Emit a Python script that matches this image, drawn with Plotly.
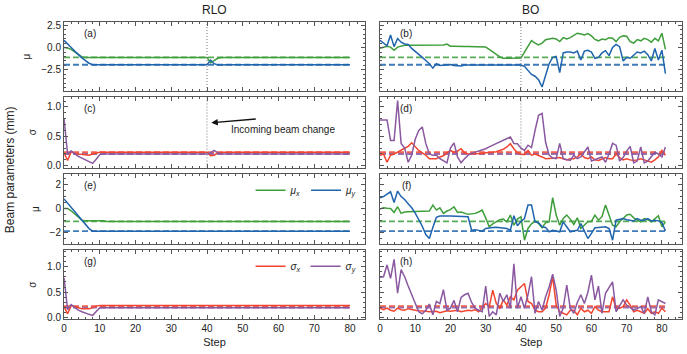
import plotly.graph_objects as go
from plotly.subplots import make_subplots

# ---------------------------------------------------------------- data
RLO_STEPS = list(range(81))
BO_STEPS = list(range(82))
CHANGE_STEP = 40

TARGET_MU_X = -1.1
TARGET_MU_Y = -1.92
TARGET_SIGMA_X = 0.23
TARGET_SIGMA_Y = 0.2

# (a) RLO, with incoming beam change
RLO_A_MU_X = [
    0.0, -0.05, -0.2, -0.5, -0.8, -1.05, -1.1, -1.1, -1.1, -1.1,
    -1.1, -1.1, -1.1, -1.1, -1.1, -1.1, -1.1, -1.1, -1.1, -1.1,
    -1.1, -1.1, -1.1, -1.1, -1.1, -1.1, -1.1, -1.1, -1.1, -1.1,
    -1.1, -1.1, -1.1, -1.1, -1.1, -1.1, -1.1, -1.1, -1.1, -1.1,
    -1.1, -1.7, -1.45, -1.2, -1.12, -1.1, -1.1, -1.1, -1.1, -1.1,
    -1.1, -1.1, -1.1, -1.1, -1.1, -1.1, -1.1, -1.1, -1.1, -1.1,
    -1.1, -1.1, -1.1, -1.1, -1.1, -1.1, -1.1, -1.1, -1.1, -1.1,
    -1.1, -1.1, -1.1, -1.1, -1.1, -1.1, -1.1, -1.1, -1.1, -1.1,
    -1.1,
]
RLO_A_MU_Y = [
    0.8, 0.45, 0.0, -0.4, -0.8, -1.15, -1.45, -1.75, -1.92, -1.92,
    -1.92, -1.92, -1.92, -1.92, -1.92, -1.92, -1.92, -1.92, -1.92, -1.92,
    -1.92, -1.92, -1.92, -1.92, -1.92, -1.92, -1.92, -1.92, -1.92, -1.92,
    -1.92, -1.92, -1.92, -1.92, -1.92, -1.92, -1.92, -1.92, -1.92, -1.92,
    -1.92, -1.4, -1.8, -1.95, -1.92, -1.92, -1.92, -1.92, -1.92, -1.92,
    -1.92, -1.92, -1.92, -1.92, -1.92, -1.92, -1.92, -1.92, -1.92, -1.92,
    -1.92, -1.92, -1.92, -1.92, -1.92, -1.92, -1.92, -1.92, -1.92, -1.92,
    -1.92, -1.92, -1.92, -1.92, -1.92, -1.92, -1.92, -1.92, -1.92, -1.92,
    -1.92,
]
# (c)
RLO_C_SIGMA_X = [
    0.22, 0.09, 0.24, 0.21, 0.2, 0.19, 0.18, 0.18, 0.2, 0.22,
    0.23, 0.23, 0.23, 0.23, 0.23, 0.23, 0.23, 0.23, 0.23, 0.23,
    0.23, 0.23, 0.23, 0.23, 0.23, 0.23, 0.23, 0.23, 0.23, 0.23,
    0.23, 0.23, 0.23, 0.23, 0.23, 0.23, 0.23, 0.23, 0.23, 0.23,
    0.23, 0.17, 0.18, 0.22, 0.23, 0.23, 0.23, 0.23, 0.23, 0.23,
    0.23, 0.23, 0.23, 0.23, 0.23, 0.23, 0.23, 0.23, 0.23, 0.23,
    0.23, 0.23, 0.23, 0.23, 0.23, 0.23, 0.23, 0.23, 0.23, 0.23,
    0.23, 0.23, 0.23, 0.23, 0.23, 0.23, 0.23, 0.23, 0.23, 0.23,
    0.23,
]
RLO_C_SIGMA_Y = [
    0.8, 0.2, 0.25, 0.2, 0.16, 0.13, 0.1, 0.07, 0.04, 0.11,
    0.19, 0.2, 0.2, 0.2, 0.2, 0.2, 0.2, 0.2, 0.2, 0.2,
    0.2, 0.2, 0.2, 0.2, 0.2, 0.2, 0.2, 0.2, 0.2, 0.2,
    0.2, 0.2, 0.2, 0.2, 0.2, 0.2, 0.2, 0.2, 0.2, 0.2,
    0.2, 0.22, 0.26, 0.22, 0.2, 0.2, 0.2, 0.2, 0.2, 0.2,
    0.2, 0.2, 0.2, 0.2, 0.2, 0.2, 0.2, 0.2, 0.2, 0.2,
    0.2, 0.2, 0.2, 0.2, 0.2, 0.2, 0.2, 0.2, 0.2, 0.2,
    0.2, 0.2, 0.2, 0.2, 0.2, 0.2, 0.2, 0.2, 0.2, 0.2,
    0.2,
]
# (e) RLO, fixed incoming beam
RLO_E_MU_X = [
    0.0, 0.0, -0.2, -0.45, -0.75, -1.0, -1.05, -1.05, -1.05, -1.02,
    -1.0, -1.05, -1.1, -1.1, -1.1, -1.1, -1.1, -1.1, -1.1, -1.1,
    -1.1, -1.1, -1.1, -1.1, -1.1, -1.1, -1.1, -1.1, -1.1, -1.1,
    -1.1, -1.1, -1.1, -1.1, -1.1, -1.1, -1.1, -1.1, -1.1, -1.1,
    -1.1, -1.1, -1.1, -1.1, -1.1, -1.1, -1.1, -1.1, -1.1, -1.1,
    -1.1, -1.1, -1.1, -1.1, -1.1, -1.1, -1.1, -1.1, -1.1, -1.1,
    -1.1, -1.1, -1.1, -1.1, -1.1, -1.1, -1.1, -1.1, -1.1, -1.1,
    -1.1, -1.1, -1.1, -1.1, -1.1, -1.1, -1.1, -1.1, -1.1, -1.1,
    -1.1,
]
RLO_E_MU_Y = [
    0.8, 0.45, 0.05, -0.3, -0.7, -1.05, -1.4, -1.7, -1.92, -1.92,
    -1.92, -1.92, -1.92, -1.92, -1.92, -1.92, -1.92, -1.92, -1.92, -1.92,
    -1.92, -1.92, -1.92, -1.92, -1.92, -1.92, -1.92, -1.92, -1.92, -1.92,
    -1.92, -1.92, -1.92, -1.92, -1.92, -1.92, -1.92, -1.92, -1.92, -1.92,
    -1.92, -1.92, -1.92, -1.92, -1.92, -1.92, -1.92, -1.92, -1.92, -1.92,
    -1.92, -1.92, -1.92, -1.92, -1.92, -1.92, -1.92, -1.92, -1.92, -1.92,
    -1.92, -1.92, -1.92, -1.92, -1.92, -1.92, -1.92, -1.92, -1.92, -1.92,
    -1.92, -1.92, -1.92, -1.92, -1.92, -1.92, -1.92, -1.92, -1.92, -1.92,
    -1.92,
]
# (g)
RLO_G_SIGMA_X = [
    0.22, 0.08, 0.24, 0.22, 0.2, 0.18, 0.18, 0.18, 0.2, 0.23,
    0.24, 0.24, 0.24, 0.24, 0.24, 0.24, 0.24, 0.24, 0.24, 0.24,
    0.24, 0.24, 0.24, 0.24, 0.24, 0.24, 0.24, 0.24, 0.24, 0.24,
    0.24, 0.24, 0.24, 0.24, 0.24, 0.24, 0.24, 0.24, 0.24, 0.24,
    0.24, 0.24, 0.24, 0.24, 0.24, 0.24, 0.24, 0.24, 0.24, 0.24,
    0.24, 0.24, 0.24, 0.24, 0.24, 0.24, 0.24, 0.24, 0.24, 0.24,
    0.24, 0.24, 0.24, 0.24, 0.24, 0.24, 0.24, 0.24, 0.24, 0.24,
    0.24, 0.24, 0.24, 0.24, 0.24, 0.24, 0.24, 0.24, 0.24, 0.24,
    0.24,
]
RLO_G_SIGMA_Y = [
    0.78, 0.16, 0.26, 0.2, 0.15, 0.12, 0.09, 0.07, 0.05, 0.13,
    0.2, 0.2, 0.2, 0.2, 0.2, 0.2, 0.2, 0.2, 0.2, 0.2,
    0.2, 0.2, 0.2, 0.2, 0.2, 0.2, 0.2, 0.2, 0.2, 0.2,
    0.2, 0.2, 0.2, 0.2, 0.2, 0.2, 0.2, 0.2, 0.2, 0.2,
    0.2, 0.2, 0.2, 0.2, 0.2, 0.2, 0.2, 0.2, 0.2, 0.2,
    0.2, 0.2, 0.2, 0.2, 0.2, 0.2, 0.2, 0.2, 0.2, 0.2,
    0.2, 0.2, 0.2, 0.2, 0.2, 0.2, 0.2, 0.2, 0.2, 0.2,
    0.2, 0.2, 0.2, 0.2, 0.2, 0.2, 0.2, 0.2, 0.2, 0.2,
    0.2,
]

# (b) BO, with incoming beam change
BO_B_MU_X = [
    -0.07, 0.0, 0.15, 0.05, -0.3, 0.05, 0.15, 0.25, 0.25, 0.25,
    0.25, 0.25, 0.25, 0.25, 0.25, 0.25, 0.25, 0.25, 0.28, 0.38,
    0.15, 0.15, 0.12, 0.15, 0.12, 0.12, 0.12, 0.12, 0.1, 0.1,
    0.05, -0.2, -0.5, -0.8, -1.05, -1.2, -1.18, -1.18, -1.18, -1.18,
    -1.18, -0.5, 0.2, 0.77, 0.5, 0.3, 0.5, 0.88, 0.95, 1.03,
    0.95, 0.66, 1.1, 0.95, 1.1, 1.4, 1.6, 1.5, 1.4, 1.55,
    1.3, 0.9, 0.75, 0.95, 0.88, 1.1, 1.03, 0.66, 1.14, 1.3,
    1.25, 0.66, 0.5, 0.88, 0.75, 1.03, 0.88, 0.6, 1.03, 0.75,
    1.6, -0.2,
]
BO_B_MU_Y = [
    0.8, 0.5, 0.2, 1.4, 0.1, 1.0, 0.6, 0.4, 0.35, -0.1,
    -0.4, -0.75, -1.1, -1.45, -1.8, -2.3, -1.8, -2.0, -1.95, -1.95,
    -1.9, -2.0, -2.0, -2.05, -1.95, -1.95, -1.9, -1.95, -1.95, -1.95,
    -1.95, -1.95, -1.95, -1.95, -1.95, -1.95, -1.95, -1.95, -1.95, -1.95,
    -1.95, -2.1, -2.5, -3.0, -3.2, -3.6, -4.4, -3.2, -1.8, -1.1,
    -1.0, -2.8, -0.6, -0.5, -0.5, -0.6, -0.4, -1.4, -0.4, -0.3,
    -0.5, -1.2, -1.1, -0.6, -0.35, -0.9, 0.0, 0.35, 0.1, -1.5,
    -1.1, -1.2, -0.8, -0.5, -0.6, -0.4, -0.8, -1.5, -0.1, -1.4,
    -0.3, -2.9,
]
# (d)
BO_D_SIGMA_X = [
    0.18, 0.2, 0.06, 0.18, 0.2, 0.23, 0.26, 0.29, 0.33, 0.39,
    0.33, 0.26, 0.22, 0.18, 0.12, 0.12, 0.12, 0.15, 0.17, 0.22,
    0.26, 0.23, 0.25, 0.29, 0.22, 0.2, 0.2, 0.2, 0.21, 0.21,
    0.22, 0.22, 0.23, 0.24, 0.26, 0.28, 0.32, 0.375, 0.29, 0.22,
    0.2, 0.19, 0.26, 0.18, 0.2, 0.18, 0.15, 0.12, 0.12, 0.12,
    0.13, 0.14, 0.12, 0.1, 0.12, 0.12, 0.15, 0.2, 0.14, 0.12,
    0.15, 0.1, 0.09, 0.12, 0.14, 0.12, 0.12, 0.2, 0.14, 0.1,
    0.12, 0.1, 0.09, 0.1, 0.12, 0.1, 0.08, 0.06, 0.1, 0.15,
    0.26, 0.18,
]
BO_D_SIGMA_Y = [
    0.78, 0.78, 0.78, 0.43, 0.43, 1.11, 0.38, 0.3, 0.06, 0.18,
    0.45, 0.6, 0.66, 0.38, 0.2, 0.18, 0.18, 0.12, 0.08, 0.05,
    0.3, 0.39, 0.15, 0.05, 0.12, 0.18, 0.21, 0.23, 0.24, 0.26,
    0.29, 0.32, 0.35, 0.38, 0.4, 0.43, 0.46, 0.49, 0.38, 0.375,
    0.3, 0.26, 0.35, 0.31, 0.6, 0.86, 0.89, 0.4, 0.18, 0.13,
    0.12, 0.38, 0.12, 0.1, 0.09, 0.18, 0.12, 0.15, 0.23, 0.32,
    0.08, 0.1, 0.12, 0.15, 0.06, 0.2, 0.38, 0.35, 0.08, 0.14,
    0.25, 0.33, 0.05, 0.08, 0.32, 0.05, 0.08, 0.15, 0.23, 0.2,
    0.15, 0.32,
]
# (f) BO, fixed incoming beam
BO_F_MU_X = [
    -0.05, 0.05, 0.02, 0.0, -0.34, 0.14, -0.42, -0.3, -0.28, -0.27,
    -0.26, -0.25, -0.24, -0.23, -0.22, 0.28, -0.14, 0.05, -0.42, -0.22,
    -0.1, 0.14, -0.34, -0.3, -0.4, -0.5, -0.46, -0.42, -0.3, -0.14,
    -0.8, -1.55, -1.3, -1.13, -0.95, -0.9, -1.13, -0.56, -1.41, -0.9,
    -0.7, -2.68, -1.69, -1.3, -1.07, -1.27, -1.63, -1.2, -1.13, 0.9,
    -0.56, -1.41, -0.85, -0.56, -0.9, -1.35, -0.79, -1.69, -1.4, -1.13,
    -1.1, -0.56, -0.99, -0.7, 0.28, -0.6, -1.41, -1.55, -1.13, -0.85,
    -0.56, -0.5, -0.8, -0.99, -1.13, -0.85, -0.95, -1.13, -0.9, -0.62,
    -1.55, -1.13,
]
BO_F_MU_Y = [
    0.9, 1.0, 1.2, 1.4, 0.5, 1.46, 1.0, 0.75, 0.4, 0.05,
    -0.4, -0.9, -1.5, -2.2, -2.54, -1.6, -0.75, -0.65, -0.62, -0.65,
    -0.65, -0.65, -0.7, -0.68, -0.7, -0.7, -1.83, -1.8, -1.85, -1.92,
    -1.69, -1.62, -1.6, -1.58, -1.6, -1.62, -1.7, -1.83, -0.62, -1.46,
    -1.1, -0.85, 0.28, 0.28, -1.13, -1.2, -1.55, -1.6, -1.97, -1.85,
    -1.9, -1.97, -1.13, -1.6, -1.97, -1.9, -1.85, -1.27, -1.9, -2.54,
    -2.1, -1.63, -1.6, -1.6, -1.55, -1.7, -2.68, -0.99, -0.95, -0.85,
    -0.95, -0.99, -1.05, -0.85, -0.99, -1.0, -0.85, -1.05, -1.0, -1.05,
    -1.2, -1.9,
]
# (h)
BO_H_SIGMA_X = [
    0.19, 0.16, 0.19, 0.15, 0.13, 0.19, 0.16, 0.15, 0.18, 0.16,
    0.15, 0.14, 0.14, 0.13, 0.12, 0.12, 0.13, 0.1, 0.12, 0.14,
    0.13, 0.14, 0.15, 0.12, 0.14, 0.15, 0.14, 0.16, 0.12, 0.2,
    0.28, 0.22, 0.54, 0.28, 0.19, 0.35, 0.25, 0.41, 0.35, 0.54,
    0.6, 0.67, 0.32, 0.28, 0.15, 0.12, 0.12, 0.19, 0.45, 0.8,
    0.25, 0.12, 0.09, 0.06, 0.15, 0.15, 0.06, 0.19, 0.12, 0.15,
    0.09, 0.22, 0.15, 0.12, 0.12, 0.12, 0.41, 0.19, 0.19, 0.22,
    0.35, 0.25, 0.12, 0.15, 0.12, 0.09, 0.18, 0.09, 0.12, 0.09,
    0.19, 0.12,
]
BO_H_SIGMA_Y = [
    0.79, 0.8, 1.03, 0.77, 1.14, 0.48, 0.94, 0.8, 0.62, 0.45,
    0.28, 0.12, 0.08, 0.15, 0.27, 0.06, 0.32, 0.28, 0.55, 0.15,
    0.19, 0.34, 0.12, 0.4, 0.45, 0.48, 0.3, 0.19, 0.15, 0.12,
    0.62, 0.03, 0.12, 0.06, 0.48, 0.32, 0.45, 0.19, 1.05, 0.19,
    0.41, 0.19, 0.45, 0.8, 0.09, 0.32, 0.15, 0.41, 0.6, 0.85,
    0.54, 0.03, 0.19, 0.64, 0.19, 0.09, 0.3, 0.45, 0.28, 0.5,
    0.83, 0.35, 0.62, 0.09, 0.48, 0.6, 0.7, 0.12, 0.25, 0.35,
    0.25, 0.2, 0.15, 0.18, 0.22, 0.09, 0.41, 0.12, 0.06, 0.35,
    0.32, 0.28,
]

COLUMN_TITLES = ["RLO", "BO"]
PANEL_LABELS = ["(a)", "(b)", "(c)", "(d)", "(e)", "(f)", "(g)", "(h)"]
ANNOTATION_TEXT = "Incoming beam change"

# ---------------------------------------------------------------- style
GREEN = "#3d9e3a"
BLUE = "#1f64ad"
RED = "#f2452f"
PURPLE = "#8a58a0"
FONT = "Liberation Sans, Arial, sans-serif"
FRAME = "#555555"

X_DOMAINS = [[0.0932, 0.5313], [0.5531, 0.9927]]
Y_DOMAINS = [[0.7429, 0.9379], [0.5268, 0.7260], [0.3107, 0.5085], [0.0975, 0.2938]]
Y_RANGES = [[-4.85, 2.85], [-0.03, 1.17], [-3.0, 2.9], [-0.03, 1.32]]
Y_DTICK = [2.5, 0.5, 2, 0.5]
Y_MINOR = [0.5, 0.1, 0.5, 0.1]
Y_FORMAT = [".1f", ".1f", "d", ".1f"]
Y_TITLES = ["μ", "σ", "μ", "σ"]
X_RANGES = [[0, 84.2], [0, 85.7]]

fig = make_subplots(rows=4, cols=2)

mu_names = ["<i>μ<sub>x</sub></i>", "<i>μ<sub>y</sub></i>"]
sigma_names = ["<i>σ<sub>x</sub></i>", "<i>σ<sub>y</sub></i>"]

panels = [
    (1, 1, RLO_STEPS, [RLO_A_MU_X, RLO_A_MU_Y], "mu", None),
    (1, 2, BO_STEPS, [BO_B_MU_X, BO_B_MU_Y], "mu", None),
    (2, 1, RLO_STEPS, [RLO_C_SIGMA_X, RLO_C_SIGMA_Y], "sigma", None),
    (2, 2, BO_STEPS, [BO_D_SIGMA_X, BO_D_SIGMA_Y], "sigma", None),
    (3, 1, RLO_STEPS, [RLO_E_MU_X, RLO_E_MU_Y], "mu", "legend"),
    (3, 2, BO_STEPS, [BO_F_MU_X, BO_F_MU_Y], "mu", None),
    (4, 1, RLO_STEPS, [RLO_G_SIGMA_X, RLO_G_SIGMA_Y], "sigma", "legend2"),
    (4, 2, BO_STEPS, [BO_H_SIGMA_X, BO_H_SIGMA_Y], "sigma", None),
]

for row, col, steps, series, kind, legend in panels:
    if kind == "mu":
        colors = [GREEN, BLUE]
        targets = [TARGET_MU_X, TARGET_MU_Y]
        names = mu_names
    else:
        colors = [RED, PURPLE]
        targets = [TARGET_SIGMA_X, TARGET_SIGMA_Y]
        names = sigma_names
    # target values as dashed lines
    for color, target in zip(colors, targets):
        fig.add_scatter(
            x=steps,
            y=[target for _ in steps],
            mode="lines",
            line={"color": color, "width": 1.8, "dash": "6px,3px"},
            opacity=0.85,
            showlegend=False,
            hoverinfo="skip",
            row=row,
            col=col,
        )
    for color, values, name in zip(colors, series, names):
        fig.add_scatter(
            x=steps,
            y=values,
            mode="lines",
            name=name,
            line={"color": color, "width": 1.5},
            showlegend=legend is not None,
            legend=legend if legend else "legend",
            row=row,
            col=col,
        )

# dotted marker of the incoming beam change
for row in (1, 2):
    for col in (1, 2):
        fig.add_vline(
            x=CHANGE_STEP,
            line={"color": "#777777", "width": 1, "dash": "1px,2px"},
            row=row,
            col=col,
        )

for row in range(1, 5):
    for col in (1, 2):
        fig.update_xaxes(
            domain=X_DOMAINS[col - 1],
            range=X_RANGES[col - 1],
            automargin=False,
            dtick=10,
            tick0=0,
            ticks="inside",
            ticklen=4,
            tickcolor=FRAME,
            minor={"ticks": "inside", "ticklen": 2, "dtick": 2, "tickcolor": FRAME},
            showline=True,
            linecolor=FRAME,
            linewidth=1,
            mirror="allticks",
            showgrid=False,
            zeroline=False,
            showticklabels=row == 4,
            tickfont={"size": 10, "color": "#222222"},
            title={"text": "Step", "font": {"size": 11}, "standoff": 4} if row == 4 else None,
            row=row,
            col=col,
        )
        fig.update_yaxes(
            domain=Y_DOMAINS[row - 1],
            range=Y_RANGES[row - 1],
            automargin=False,
            dtick=Y_DTICK[row - 1],
            tick0=0,
            tickformat=Y_FORMAT[row - 1],
            ticks="inside",
            ticklen=4,
            tickcolor=FRAME,
            minor={"ticks": "inside", "ticklen": 2, "dtick": Y_MINOR[row - 1], "tickcolor": FRAME},
            showline=True,
            linecolor=FRAME,
            linewidth=1,
            mirror="allticks",
            showgrid=False,
            zeroline=False,
            showticklabels=col == 1,
            tickfont={"size": 10, "color": "#222222"},
            title={"text": Y_TITLES[row - 1], "font": {"size": 10}, "standoff": 8} if col == 1 else None,
            row=row,
            col=col,
        )

# panel letters
for i, label in enumerate(PANEL_LABELS):
    row, col = i // 2 + 1, i % 2 + 1
    axis_num = (row - 1) * 2 + col
    suffix = "" if axis_num == 1 else str(axis_num)
    fig.add_annotation(
        text=label,
        xref=f"x{suffix} domain",
        yref=f"y{suffix} domain",
        x=0.087,
        y=0.84,
        xanchor="center",
        yanchor="middle",
        showarrow=False,
        font={"size": 10, "color": "#222222"},
    )

# column titles
for title, domain in zip(COLUMN_TITLES, X_DOMAINS):
    fig.add_annotation(
        text=title,
        xref="paper",
        yref="paper",
        x=(domain[0] + domain[1]) / 2,
        y=0.972,
        xanchor="center",
        yanchor="middle",
        showarrow=False,
        font={"size": 12},
    )

fig.add_annotation(
    text="Beam parameters (mm)",
    xref="paper",
    yref="paper",
    x=0.015,
    y=0.52,
    xanchor="center",
    yanchor="middle",
    textangle=-90,
    showarrow=False,
    font={"size": 12},
)

# arrow to the beam change
fig.add_annotation(
    x=CHANGE_STEP + 1.2,
    y=0.73,
    xref="x3",
    yref="y3",
    text="",
    showarrow=True,
    arrowhead=2,
    arrowsize=1,
    arrowwidth=1.3,
    arrowcolor="#111111",
    ax=46,
    ay=-4,
)
fig.add_annotation(
    x=61.3,
    y=0.61,
    xref="x3",
    yref="y3",
    text=ANNOTATION_TEXT,
    showarrow=False,
    font={"size": 10, "color": "#222222"},
)

legend_style = {
    "orientation": "h",
    "xanchor": "right",
    "x": X_DOMAINS[0][1] - 0.005,
    "yanchor": "top",
    "bgcolor": "rgba(0,0,0,0)",
    "font": {"size": 10},
    "itemwidth": 30,
}
fig.update_layout(
    width=687,
    height=354,
    margin={"l": 0, "r": 0, "t": 0, "b": 0},
    plot_bgcolor="white",
    paper_bgcolor="white",
    font={"family": FONT, "color": "#222222"},
    legend={**legend_style, "y": Y_DOMAINS[2][1] - 0.005},
    legend2={**legend_style, "y": Y_DOMAINS[3][1] - 0.005},
)

fig.write_html(
    "out.html",
    config={"displayModeBar": False},
    post_script="document.body.style.margin = '0px';",
)
